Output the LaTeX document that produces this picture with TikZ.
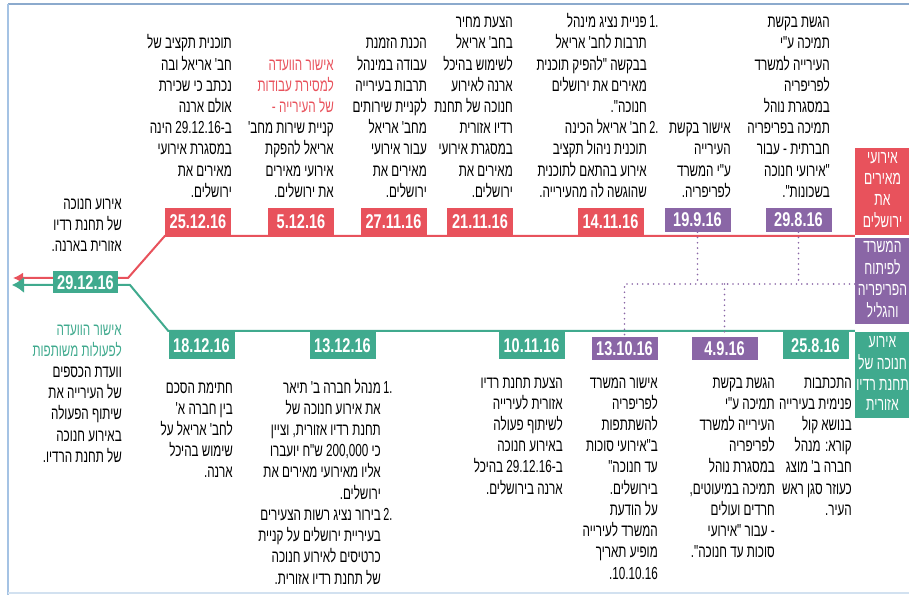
\documentclass[tikz,border=0pt]{standalone}
\usepackage{fontspec}
\usetikzlibrary{arrows.meta,backgrounds}
\TeXXeTstate=1
\newfontfamily\hebfont{Liberation Sans}[Script=Hebrew,FakeStretch=0.67]
\newfontfamily\lanefont{Liberation Sans}[Script=Hebrew,FakeStretch=0.66]
\newfontfamily\numfont{Liberation Sans}[FakeStretch=0.62]
\newfontfamily\datefont{Liberation Sans}[FakeStretch=0.73]
% one right-to-left line
\newcommand\rl[1]{\strut\beginR #1\endR}
% hanging list number on the right
\newcommand\itemno[1]{\rlap{\hspace{2.5bp}\numfont #1}}
\definecolor{jred}{RGB}{232,82,92}
\definecolor{jpurple}{RGB}{138,102,166}
\definecolor{jgreen}{RGB}{64,170,142}
\definecolor{frametop}{RGB}{140,170,205}
\definecolor{frameleft}{RGB}{165,195,228}
\definecolor{framebottom}{RGB}{210,225,240}
\tikzset{
  datebox/.style={fill=#1, text=white, font=\datefont\bfseries\fontsize{20}{24}\selectfont,
    minimum width=66bp, minimum height=28bp, inner sep=0pt},
  remark/.style={font=\hebfont\fontsize{17.5}{21.3}\selectfont, align=right, inner sep=0pt},
  lane/.style={fill=#1, text=white, font=\lanefont\fontsize{18.5}{20.7}\selectfont,
    align=center, minimum width=55bp, inner sep=0pt},
  redline/.style={draw=jred, line width=2bp},
  greenline/.style={draw=jgreen, line width=2bp},
  dotline/.style={draw=jpurple, line width=1.8bp, dash pattern=on 0bp off 5.3bp, line cap=round},
}
\begin{document}
\begin{tikzpicture}[>={Latex[length=10bp,width=11bp]},line join=bevel]
  \useasboundingbox (0bp,0bp) rectangle (909bp,595bp);
%%
  % Frame
  \draw[frametop, line width=2.5bp] (8bp,591bp) -- (909bp,591bp);
  \draw[frameleft, line width=2bp] (8bp,0bp) -- (8bp,591bp);
  \draw[framebottom, line width=2bp] (8bp,2bp) -- (909bp,2bp);
  % Node: lanes
  \node[lane=jred, minimum height=87bp] (lanered) at (882.5bp,403.5bp)
    {\rl{אירועי}\\\rl{מאירים}\\\rl{את}\\\rl{ירושלים}};
  \node[lane=jpurple, minimum height=82bp] (lanepurple) at (882.5bp,314bp)
    {\rl{המשרד}\\\rl{לפיתוח}\\\rl{הפריפריה}\\\rl{והגליל}};
  \node[lane=jgreen, minimum height=86bp] (lanegreen) at (882.5bp,220bp)
    {\rl{אירוע}\\\rl{חנוכה של}\\\rl{תחנת רדיו}\\\rl{אזורית}};
  % Node: dates on the red line
  \node[datebox=jred, anchor=south] (r25dec) at (198bp,359bp) {25.12.16};
  \node[datebox=jred, anchor=south] (r5dec) at (301bp,359bp) {5.12.16};
  \node[datebox=jred, anchor=south] (r27nov) at (393.5bp,359bp) {27.11.16};
  \node[datebox=jred, anchor=south] (r21nov) at (480bp,359bp) {21.11.16};
  \node[datebox=jred, anchor=south] (r14nov) at (610.5bp,359bp) {14.11.16};
  \node[datebox=jpurple, minimum height=24bp] (p19sep) at (697.5bp,375bp) {19.9.16};
  \node[datebox=jpurple, minimum height=24bp] (p29aug) at (798.5bp,375bp) {29.8.16};
  % Node: dates on the green line
  \node[datebox=jgreen, anchor=north] (g18dec) at (201.5bp,264bp) {18.12.16};
  \node[datebox=jgreen, anchor=north] (g13dec) at (342.5bp,264bp) {13.12.16};
  \node[datebox=jgreen, anchor=north] (g10nov) at (531.5bp,264bp) {10.11.16};
  \node[datebox=jpurple, minimum height=23bp] (p13oct) at (624.5bp,246.5bp) {13.10.16};
  \node[datebox=jpurple, minimum height=23bp] (p4sep) at (724.5bp,246.5bp) {4.9.16};
  \node[datebox=jgreen, anchor=north] (g25aug) at (815.5bp,264bp) {25.8.16};
  % Node: final date
  \node[datebox=jgreen, minimum width=65bp, minimum height=22bp] (d29dec) at (85.5bp,312.5bp) {29.12.16};
  \coordinate (redbend) at (128bp,317bp);
  \coordinate (redtip) at (13bp,317bp);
  \coordinate (greenbend) at (130bp,310bp);
  \coordinate (greentip) at (12bp,310bp);
  \coordinate (dotjoin) at (624.5bp,311bp);
\begin{scope}[on background layer]
  % Edge: red line -> 29.12.16
  \draw[redline, ->] (lanered.west |- r25dec.south) -- (r25dec.south west) -- (redbend) -- (redtip);
  % Edge: green line -> 29.12.16
  \draw[greenline, -{Latex[length=12bp,width=16bp]}] (lanegreen.west |- g18dec.north) -- (g18dec.north west) -- (greenbend) -- (greentip);
  % Edge: periphery office
  \draw[dotline] (lanepurple.west |- dotjoin) -- (dotjoin) -- (p13oct.north);
  \draw[dotline] (p19sep.south) -- (p19sep.south |- dotjoin);
  \draw[dotline] (p29aug.south) -- (p29aug.south |- dotjoin);
  \draw[dotline] (p4sep.north |- dotjoin) -- (p4sep.north);
\end{scope}
  % Node: texts above the red line
  \node[remark, anchor=south east] (t25dec) at (232bp,391bp)
    {\rl{תוכנית תקציב של}\\\rl{חב' אריאל ובה}\\\rl{נכתב כי שכירת}\\\rl{אולם ארנה}\\
     \rl{ב-29.12.16 הינה}\\\rl{במסגרת אירועי}\\\rl{מאירים את}\\\rl{ירושלים.}};
  \node[remark, anchor=south east] (t5dec) at (334bp,391bp)
    {\textcolor{jred}{\rl{אישור הוועדה}}\\\textcolor{jred}{\rl{למסירת עבודות}}\\
     \textcolor{jred}{\rl{של העירייה -}}\\\rl{קניית שירות מחב'}\\\rl{אריאל להפקת}\\
     \rl{אירועי מאירים}\\\rl{את ירושלים.}};
  \node[remark, anchor=south east] (t27nov) at (427bp,391bp)
    {\rl{הכנת הזמנת}\\\rl{עבודה במינהל}\\\rl{תרבות בעירייה}\\\rl{לקניית שירותים}\\
     \rl{מחב' אריאל}\\\rl{עבור אירועי}\\\rl{מאירים את}\\\rl{ירושלים.}};
  \node[remark, anchor=south east] (t21nov) at (513bp,391bp)
    {\rl{הצעת מחיר}\\\rl{בחב' אריאל}\\\rl{לשימוש בהיכל}\\\rl{ארנה לאירוע}\\
     \rl{חנוכה של תחנת}\\\rl{רדיו אזורית}\\\rl{במסגרת אירועי}\\\rl{מאירים את}\\\rl{ירושלים.}};
  \node[remark, anchor=south east] (t14nov) at (647bp,391bp)
    {\rl{פניית נציג מינהל}\itemno{1.}\\\rl{תרבות לחב' אריאל}\\\rl{בבקשה "להפיק תוכנית}\\
     \rl{מאירים את ירושלים}\\\rl{חנוכה".}\\\rl{חב' אריאל הכינה}\itemno{2.}\\
     \rl{תוכנית ניהול תקציב}\\\rl{אירוע בהתאם לתוכנית}\\\rl{שהוגשה לה מהעירייה.}};
  \node[remark, anchor=south east] (t19sep) at (731bp,391bp)
    {\rl{אישור בקשת}\\\rl{העירייה}\\\rl{ע"י המשרד}\\\rl{לפריפריה.}};
  \node[remark, anchor=south east] (t29aug) at (830bp,391bp)
    {\rl{הגשת בקשת}\\\rl{תמיכה ע"י}\\\rl{העירייה למשרד}\\\rl{לפריפריה}\\\rl{במסגרת נוהל}\\
     \rl{תמיכה בפריפריה}\\\rl{חברתית - עבור}\\\rl{"אירועי חנוכה}\\\rl{בשכונות".}};
  % Node: texts below the green line
  \node[remark, anchor=north east] (t18dec) at (233bp,217bp)
    {\rl{חתימת הסכם}\\\rl{בין חברה א'}\\\rl{לחב' אריאל על}\\\rl{שימוש בהיכל}\\\rl{ארנה.}};
  \node[remark, anchor=north east] (t13dec) at (381bp,217bp)
    {\rl{מנהל חברה ב' תיאר}\itemno{1.}\\\rl{את אירוע חנוכה של}\\\rl{תחנת רדיו אזורית, וציין}\\
     \rl{כי 200,000 ש"ח יועברו}\\\rl{אליו מאירועי מאירים את}\\\rl{ירושלים.}\hspace*{24bp}\\
     \rl{בירור נציג רשות הצעירים}\itemno{2.}\\\rl{בעיריית ירושלים על קניית}\\
     \rl{כרטיסים לאירוע חנוכה}\\\rl{של תחנת רדיו אזורית.}};
  \node[remark, anchor=north east] (t10nov) at (563bp,222bp)
    {\rl{הצעת תחנת רדיו}\\\rl{אזורית לעירייה}\\\rl{לשיתוף פעולה}\\\rl{באירוע חנוכה}\\
     \rl{ב-29.12.16 בהיכל}\\\rl{ארנה בירושלים.}};
  \node[remark, anchor=north east] (t13oct) at (658bp,222bp)
    {\rl{אישור המשרד}\\\rl{לפריפריה}\\\rl{להשתתפות}\\\rl{ב"אירועי סוכות}\\\rl{עד חנוכה"}\\
     \rl{בירושלים.}\\\rl{על הודעת}\\\rl{המשרד לעירייה}\\\rl{מופיע תאריך}\\\rl{10.10.16.}};
  \node[remark, anchor=north east] (t4sep) at (775bp,222bp)
    {\rl{הגשת בקשת}\\\rl{תמיכה ע"י}\\\rl{העירייה למשרד}\\\rl{לפריפריה}\\\rl{במסגרת נוהל}\\
     \rl{תמיכה במיעוטים,}\\\rl{חרדים ועולים}\\\rl{- עבור "אירועי}\\\rl{סוכות עד חנוכה".}};
  \node[remark, anchor=north east] (t25aug) at (852bp,222bp)
    {\rl{התכתבות}\\\rl{פנימית בעירייה}\\\rl{בנושא קול}\\\rl{קורא: מנהל}\\\rl{חברה ב' מוצג}\\
     \rl{כעוזר סגן ראש}\\\rl{העיר.}};
  % Node: texts at the final date
  \node[remark, anchor=south east] (t29decup) at (122bp,336.5bp)
    {\rl{אירוע חנוכה}\\\rl{של תחנת רדיו}\\\rl{אזורית בארנה.}};
  \node[remark, anchor=north east] (t29decdown) at (122bp,275bp)
    {\textcolor{jgreen}{\rl{אישור הוועדה}}\\\textcolor{jgreen}{\rl{לפעולות משותפות}}\\
     \rl{וועדת הכספים}\\\rl{של העירייה את}\\\rl{שיתוף הפעולה}\\\rl{באירוע חנוכה}\\
     \rl{של תחנת הרדיו.}};
%
\end{tikzpicture}
\end{document}
